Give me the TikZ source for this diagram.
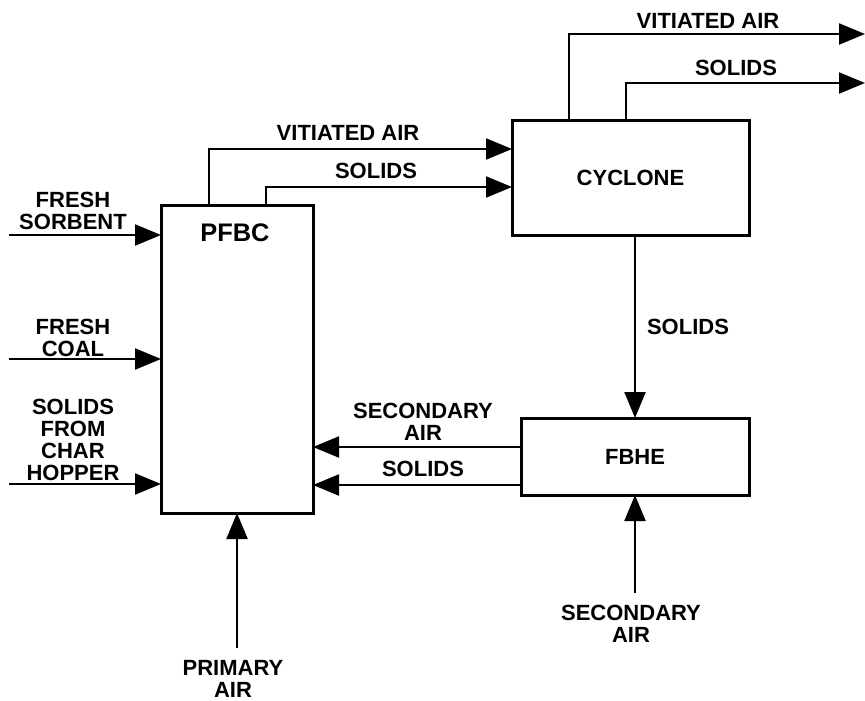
\documentclass[tikz,border=0pt]{standalone}
\usepackage{fontspec}
\setmainfont{Liberation Sans}
\usetikzlibrary{arrows.meta}
\begin{document}
\begin{tikzpicture}[x=0.5pt,y=-0.5pt,
  box/.style={draw, line width=1.5pt, outer sep=0pt, inner sep=0pt,
    font=\fontsize{11}{11}\selectfont\bfseries},
  arr/.style={line width=1.1pt, -{Triangle[length=13pt,width=10.5pt]}},
  lbl/.style={font=\fontsize{11}{11}\selectfont\bfseries, align=center, inner sep=0pt},
]
\useasboundingbox (0,0) rectangle (865,700);

% boxes
\node[box, minimum width=76pt, minimum height=154pt] (pfbc) at (237,359) {};
\node[lbl, font=\fontsize{12.7}{13}\selectfont\bfseries] (pfbclbl) at (235,233) {PFBC};
\node[box, minimum width=118.5pt, minimum height=57pt] (cyc) at (630.5,178) {CYCLONE};
\node[box, minimum width=114pt, minimum height=38.5pt] (fbhe) at (635,456.5) {FBHE};

% free ends
\coordinate (insorb) at (9,235);
\coordinate (incoal) at (9,359);
\coordinate (inchar) at (9,484);
\coordinate (outva) at (865,34);
\coordinate (outso) at (865,83);
\coordinate (pa) at (237,648);
\coordinate (sa) at (635,593);

% connectors
\draw[arr] (insorb) -- (insorb -| pfbc.west);
\draw[arr] (incoal) -- (incoal -| pfbc.west);
\draw[arr] (inchar) -- (inchar -| pfbc.west);
\draw[arr] ([xshift=24pt]pfbc.north west) |- ([yshift=14.5pt]cyc.west);
\draw[arr] ([xshift=52.5pt]pfbc.north west) |- ([yshift=-4.5pt]cyc.west);
\draw[arr] ([xshift=28.5pt]cyc.north west) |- (outva);
\draw[arr] ([xshift=57pt]cyc.north west) |- (outso);
\draw[arr] (cyc.south -| fbhe.north) -- (fbhe.north);
\draw[arr] ([yshift=4.75pt]fbhe.west) -- ([yshift=4.75pt]fbhe.west -| pfbc.east);
\draw[arr] ([yshift=-14.25pt]fbhe.west) -- ([yshift=-14.25pt]fbhe.west -| pfbc.east);
\draw[arr] (pa) -- (pa |- pfbc.south);
\draw[arr] (sa) -- (sa |- fbhe.south);

% labels
\node[lbl] (lsorb) at (73,211) {FRESH\\SORBENT};
\node[lbl] (lcoal) at (73,338) {FRESH\\COAL};
\node[lbl] (lchar) at (73,440) {SOLIDS\\FROM\\CHAR\\HOPPER};
\node[lbl] (lva1) at (348,133) {VITIATED AIR};
\node[lbl] (lso1) at (376,171) {SOLIDS};
\node[lbl] (lva2) at (708,21) {VITIATED AIR};
\node[lbl] (lso2) at (736,68) {SOLIDS};
\node[lbl] (lso3) at (688,327) {SOLIDS};
\node[lbl] (lsec1) at (423,422) {SECONDARY\\AIR};
\node[lbl] (lso4) at (423,469) {SOLIDS};
\node[lbl] (lsec2) at (631,624) {SECONDARY\\AIR};
\node[lbl] (lpri) at (233,679) {PRIMARY\\AIR};
\end{tikzpicture}
\end{document}
